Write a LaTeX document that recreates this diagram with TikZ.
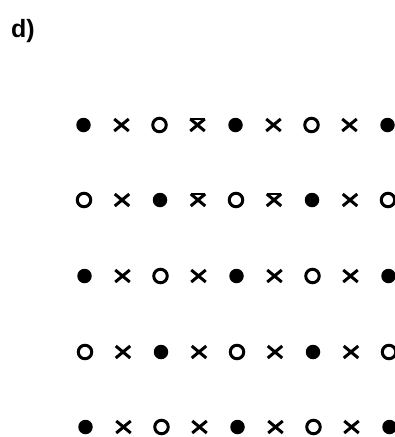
\documentclass[tikz,border=0pt]{standalone}
\usepackage{fontspec}
\setmainfont{Liberation Sans}
\usetikzlibrary{shapes.misc}

\begin{document}
\begin{tikzpicture}[x=1pt, y=-1pt,
                dotfull/.style={circle, fill=black, minimum size=14.5pt, inner sep=0pt},
                dotopen/.style={circle, draw, line width=3pt, minimum size=13.5pt, inner sep=0pt},
                xmark/.style={cross out, draw, line width=3pt, minimum width=14.5pt, minimum height=12pt, inner sep=0pt, outer sep=0pt},
                xbar/.style={xmark, append after command={(\tikzlastnode.north west) edge[line width=1.4pt] (\tikzlastnode.north east)}}]

                \useasboundingbox (0,0) rectangle (395,437);

                % Label
                \node[anchor=base west, inner sep=0pt, font=\bfseries\fontsize{25}{25}\selectfont] (lbl) at (11,37) {d)};

                % Rows of the lattice
                \foreach \s [count=\c] in {dotfull,xmark,dotopen,xbar,dotfull,xmark,dotopen,xmark,dotfull}
                    \node[\s] (r1c\c) at ({83.5+38*(\c-1)},125) {};
                \foreach \s [count=\c] in {dotopen,xmark,dotfull,xbar,dotopen,xbar,dotfull,xmark,dotopen}
                    \node[\s] (r2c\c) at ({84+38*(\c-1)},200) {};
                \foreach \s [count=\c] in {dotfull,xmark,dotopen,xmark,dotfull,xmark,dotopen,xmark,dotfull}
                    \node[\s] (r3c\c) at ({84.5+38*(\c-1)},276) {};
                \foreach \s [count=\c] in {dotopen,xmark,dotfull,xmark,dotopen,xmark,dotfull,xmark,dotopen}
                    \node[\s] (r4c\c) at ({85+38*(\c-1)},352) {};
                \foreach \s [count=\c] in {dotfull,xmark,dotopen,xmark,dotfull,xmark,dotopen,xmark,dotfull}
                    \node[\s] (r5c\c) at ({85.5+38*(\c-1)},427) {};

            \end{tikzpicture}
\end{document}
